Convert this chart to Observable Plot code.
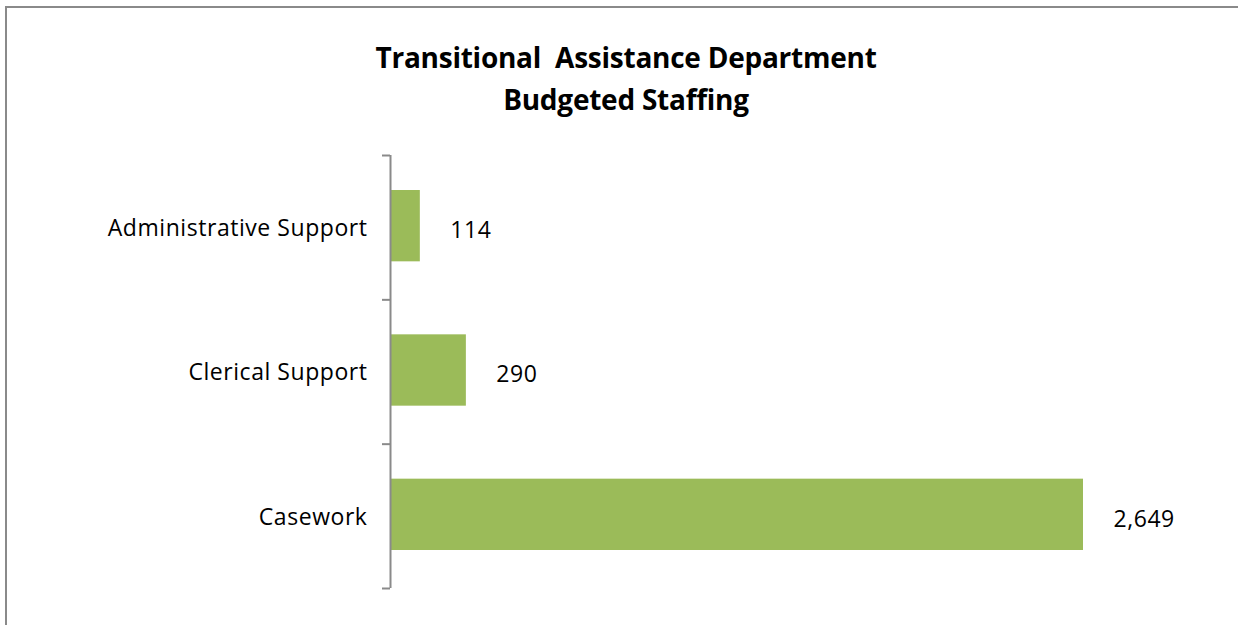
<!DOCTYPE html>
<html>
<head>
<meta charset="utf-8">
<script src="https://cdn.jsdelivr.net/npm/d3@7"></script>
<script src="https://cdn.jsdelivr.net/npm/@observablehq/plot@0.6"></script>
<style>
  html, body { margin: 0; padding: 0; background: #fff; overflow: hidden; width: 1238px; height: 625px; }
  #frame { position: absolute; left: 5px; top: 6px; width: 1400px; height: 800px; border: 2px solid #8a8a8a; box-sizing: border-box; }
  #title { position: absolute; left: 0; top: 36px; width: 1252px; text-align: center; font-family: "Open Sans", sans-serif; font-weight: 700; font-size: 28px; line-height: 42px; color: #000; letter-spacing: -0.25px; }
  #chart { position: absolute; left: 0; top: 130px; }
  #chart svg g[aria-label="text"] text { letter-spacing: 0.55px; }
</style>
</head>
<body>
<div id="frame"></div>
<div id="title">Transitional&nbsp; Assistance Department<br>Budgeted Staffing</div>
<div id="chart"></div>
<script>
const categories = ["Administrative Support", "Clerical Support", "Casework"];
const values = [114, 290, 2649];
const boundaries = [0, 1, 2, 3];

const data = categories.map((c, i) => ({cat: c, value: values[i], i}));

const plot = Plot.plot({
  width: 1238,
  height: 495,
  marginLeft: 390,
  marginRight: 155,
  marginTop: 25,
  marginBottom: 37,
  style: {fontFamily: "'Open Sans', sans-serif", background: "transparent"},
  x: {domain: [0, 2649], axis: null},
  y: {domain: [0, 3], reverse: true, axis: null},
  marks: [
    Plot.rectX(data, {x1: 0, x2: "value", y1: "i", y2: d => d.i + 1, insetTop: 35, insetBottom: 38, fill: "#9BBB59"}),
    Plot.axisY(boundaries, {tickSize: 8, tickFormat: () => "", label: null, stroke: "#8a8a8a", strokeWidth: 2, strokeOpacity: 1}),
    Plot.ruleX([0], {stroke: "#8a8a8a", strokeWidth: 2}),
    Plot.text(data, {x: 0, y: d => d.i + 0.5, text: "cat", textAnchor: "end", dx: -23, dy: 1, fontSize: 23, fill: "#000"}),
    Plot.text(data, {x: "value", y: d => d.i + 0.5, text: d => d3.format(",")(d.value), textAnchor: "start", dx: 30, dy: 3, fontSize: 23, fill: "#000"})
  ]
});
document.getElementById("chart").appendChild(plot);
</script>
</body>
</html>
